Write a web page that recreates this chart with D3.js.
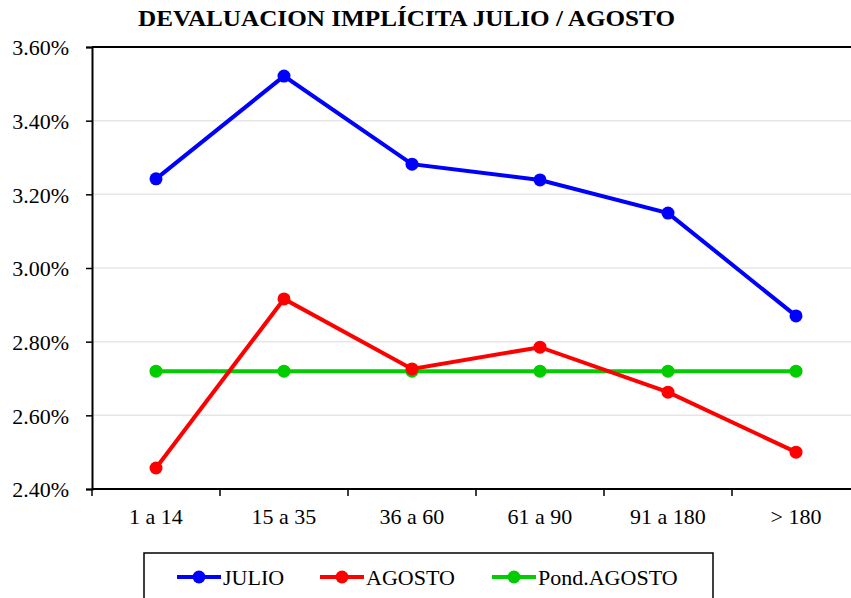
<!DOCTYPE html>
<html>
<head>
<meta charset="utf-8">
<script src="https://cdn.jsdelivr.net/npm/d3@7"></script>
<style>
  body { margin: 0; background: #fff; }
  text { font-family: "Liberation Serif", "Times New Roman", serif; fill: #000; }
</style>
</head>
<body>
<div id="chart"></div>
<script>
// plazos
var categories = ["1 a 14", "15 a 35", "36 a 60", "61 a 90", "91 a 180", "> 180"];
var julio = [3.242, 3.521, 3.282, 3.239, 3.149, 2.870];
var agosto = [2.457, 2.916, 2.726, 2.785, 2.663, 2.500];
var pondAgosto = [2.720, 2.720, 2.720, 2.720, 2.720, 2.720];
var yTicks = [2.40, 2.60, 2.80, 3.00, 3.20, 3.40, 3.60];

var series = [
  {name: "JULIO", values: julio, color: "#0000ff"},
  {name: "AGOSTO", values: agosto, color: "#ff0000"},
  {name: "Pond.AGOSTO", values: pondAgosto, color: "#00cc00"}
];

var W = 851, H = 598;
var pLeft = 92, pTop = 47, pRight = 860, pBottom = 489;
var fontSize = "22px";

var svg = d3.select("#chart").append("svg")
    .attr("width", W)
    .attr("height", H);

var x = d3.scaleBand()
    .domain(categories)
    .range([pLeft, pRight]);
var y = d3.scaleLinear()
    .domain([2.4, 3.6])
    .range([pBottom, pTop]);

// title
svg.append("text")
    .attr("x", 138).attr("y", 26)
    .attr("textLength", 537)
    .attr("lengthAdjust", "spacingAndGlyphs")
    .style("font-size", "24px")
    .style("font-weight", "bold")
    .text("DEVALUACION IMPLÍCITA JULIO / AGOSTO");

// grid
svg.append("g")
    .selectAll("line")
    .data(yTicks.slice(1, -1))
    .enter().append("line")
    .attr("x1", pLeft).attr("x2", pRight)
    .attr("y1", function (d) { return y(d); })
    .attr("y2", function (d) { return y(d); })
    .attr("stroke", "#e6e6e6")
    .attr("stroke-width", 1.5);

// y axis
var yAxis = svg.append("g")
    .attr("transform", "translate(" + pLeft + ",0)")
    .call(d3.axisLeft(y).tickValues(yTicks).tickSize(6).tickPadding(17)
        .tickFormat(function (d) { return d.toFixed(2) + "%"; }))
    .attr("font-family", "Liberation Serif")
    .attr("font-size", 22);
yAxis.selectAll("text").attr("fill", "#000").attr("dy", "0.35em");
yAxis.select(".domain").attr("stroke-width", 2);
yAxis.selectAll(".tick line").attr("stroke-width", 1.5);

// x axis, ticks between categories
var xAxis = svg.append("g")
    .attr("transform", "translate(0," + pBottom + ")");
xAxis.append("line")
    .attr("x1", pLeft).attr("x2", pRight)
    .attr("stroke", "#000").attr("stroke-width", 2);
xAxis.selectAll(".tk")
    .data(categories)
    .enter().append("line")
    .attr("class", "tk")
    .attr("x1", function (d) { return x(d); })
    .attr("x2", function (d) { return x(d); })
    .attr("y1", 0).attr("y2", 7)
    .attr("stroke", "#000").attr("stroke-width", 1.5);
xAxis.selectAll(".lb")
    .data(categories)
    .enter().append("text")
    .attr("class", "lb")
    .attr("x", function (d) { return x(d) + x.bandwidth() / 2; })
    .attr("y", 35)
    .attr("text-anchor", "middle")
    .style("font-size", fontSize)
    .text(function (d) { return d; });

// top frame line
svg.append("line")
    .attr("x1", pLeft).attr("x2", pRight)
    .attr("y1", pTop).attr("y2", pTop)
    .attr("stroke", "#000").attr("stroke-width", 2);

var line = d3.line()
    .x(function (d, i) { return x(categories[i]) + x.bandwidth() / 2; })
    .y(function (d) { return y(d); });

// green first so blue / red sit above
var order = [series[2], series[0], series[1]];
order.forEach(function (s) {
  var g = svg.append("g");
  g.append("path")
      .datum(s.values)
      .attr("d", line)
      .attr("fill", "none")
      .attr("stroke", s.color)
      .attr("stroke-width", 4);
  g.selectAll("circle")
      .data(s.values)
      .enter().append("circle")
      .attr("cx", function (d, i) { return x(categories[i]) + x.bandwidth() / 2; })
      .attr("cy", function (d) { return y(d); })
      .attr("r", 6.5)
      .attr("fill", s.color);
});

// legend
var lg = svg.append("g");
lg.append("rect")
    .attr("x", 144).attr("y", 553)
    .attr("width", 569).attr("height", 60)
    .attr("fill", "#fff")
    .attr("stroke", "#000").attr("stroke-width", 1.5);
var legendX = [177, 320, 492];
series.forEach(function (s, i) {
  var lx = legendX[i], ly = 577;
  lg.append("line")
      .attr("x1", lx).attr("x2", lx + 44)
      .attr("y1", ly).attr("y2", ly)
      .attr("stroke", s.color).attr("stroke-width", 4);
  lg.append("circle")
      .attr("cx", lx + 22).attr("cy", ly).attr("r", 6.5)
      .attr("fill", s.color);
  lg.append("text")
      .attr("x", lx + 46).attr("y", ly + 8)
      .style("font-size", fontSize)
      .text(s.name);
});
</script>
</body>
</html>
